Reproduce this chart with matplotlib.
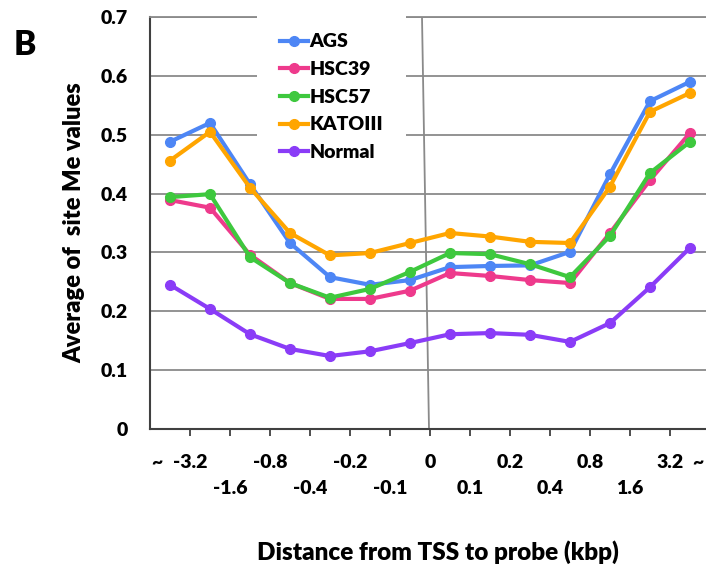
import matplotlib
matplotlib.use("Agg")
import matplotlib.pyplot as plt
import numpy as np

plt.rcParams["font.family"] = ["Lato", "DejaVu Sans"]
plt.rcParams["font.weight"] = "heavy"
FW = "heavy"

# 14 distance bins (kbp) from far upstream to far downstream of the TSS
n_bins = 14
upper_labels = ["-3.2", "-0.8", "-0.2", "0", "0.2", "0.8", "3.2"]
lower_labels = ["-1.6", "-0.4", "-0.1", "0.1", "0.4", "1.6"]

ags = [0.488, 0.520, 0.416, 0.316, 0.258, 0.245, 0.253, 0.275, 0.277, 0.278, 0.301, 0.433, 0.557, 0.590]
hsc39 = [0.389, 0.376, 0.296, 0.248, 0.221, 0.221, 0.235, 0.265, 0.260, 0.253, 0.248, 0.333, 0.423, 0.503]
hsc57 = [0.394, 0.399, 0.292, 0.248, 0.223, 0.238, 0.267, 0.299, 0.297, 0.280, 0.258, 0.328, 0.435, 0.488]
katoiii = [0.456, 0.505, 0.410, 0.333, 0.295, 0.299, 0.316, 0.333, 0.327, 0.318, 0.316, 0.412, 0.539, 0.571]
normal = [0.245, 0.204, 0.161, 0.136, 0.124, 0.132, 0.146, 0.161, 0.163, 0.160, 0.148, 0.180, 0.241, 0.308]

series = [("AGS", ags, "#4d86f5"), ("HSC39", hsc39, "#ee3a8c"), ("HSC57", hsc57, "#3ec83e"),
          ("KATOIII", katoiii, "#ffa500"), ("Normal", normal, "#8a3cf7")]

W, H = 706, 571
fig = plt.figure(figsize=(W / 100, H / 100), dpi=100)
# axes runs a little past the right edge of the picture, like the original
ax = fig.add_axes([150 / W, 1 - 429 / H, 560 / W, 412 / H])

x = np.arange(n_bins) + 0.5
for name, vals, col in series:
    ax.plot(x, vals, "-o", color=col, lw=3, ms=7, label=name, zorder=3)

ax.set_xlim(0, n_bins)
ax.set_ylim(0, 0.7)
ax.set_yticks(np.arange(0, 0.71, 0.1))
ax.set_yticklabels(["0"] + [f"{v:.1f}" for v in np.arange(0.1, 0.71, 0.1)], fontsize=14, fontweight=FW)
ax.tick_params(axis="y", length=0, pad=16)
ax.yaxis.grid(True, color="#8a8a8a", lw=1.3)
ax.set_axisbelow(True)

ax.set_xticks(np.arange(1, n_bins))
ax.set_xticklabels([])
ax.tick_params(axis="x", direction="out", length=5, width=1.3, color="#404040")

for s in ["left", "bottom"]:
    ax.spines[s].set_color("#404040")
    ax.spines[s].set_linewidth(1.5)
ax.spines["top"].set_color("#8a8a8a")
ax.spines["top"].set_linewidth(1.3)
ax.spines["right"].set_visible(False)

# TSS marker line (slightly tilted in the original)
ax.plot([6.8, 6.975], [0.7, 0], color="#8a8a8a", lw=1.3, zorder=2)

trans = ax.get_xaxis_transform()
for i, lab in enumerate(upper_labels):
    ax.text(1 + 2 * i, -0.082, lab, transform=trans, ha="center", va="center", fontsize=14, fontweight=FW)
for i, lab in enumerate(lower_labels):
    ax.text(2 + 2 * i, -0.145, lab, transform=trans, ha="center", va="center", fontsize=14, fontweight=FW)
ax.text(0.18, -0.082, "~", transform=trans, ha="center", va="center", fontsize=14, fontweight=FW)
ax.text(13.7, -0.082, "~", transform=trans, ha="center", va="center", fontsize=14, fontweight=FW)

ax.set_ylabel("Average of  site Me values", fontsize=17, fontweight=FW, labelpad=11)
fig.text(438 / W, 1 - 552 / H, "Distance from TSS to probe (kbp)", ha="center", va="center",
         fontsize=17.5, fontweight=FW)
fig.text(25 / W, 1 - 45 / H, "B", ha="center", va="center", fontsize=24, fontweight=FW)

leg = ax.legend(loc="upper left", bbox_to_anchor=(257 / W, 1 - 10 / H), bbox_transform=fig.transFigure,
                frameon=True, fancybox=False, edgecolor="none", facecolor="white", framealpha=1,
                borderpad=1.2, borderaxespad=0, handlelength=1.4, handletextpad=0.1,
                labelspacing=0.55, prop={"size": 14, "weight": FW})
leg.set_zorder(5)

fig.savefig("out.png", dpi=100)
